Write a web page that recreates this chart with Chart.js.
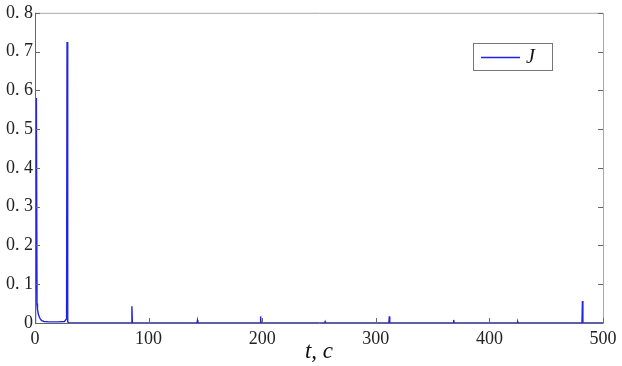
<!DOCTYPE html>
<html>
<head>
<meta charset="utf-8">
<script src="https://cdn.jsdelivr.net/npm/chart.js@4.4.0/dist/chart.umd.min.js"></script>
<style>
  html, body { margin: 0; padding: 0; background: #fff; }
  #wrap { width: 622px; height: 366px; position: relative; }
</style>
</head>
<body>
<div id="wrap"><canvas id="chart" width="622" height="366"></canvas></div>
<script>
// time, s
const timeValues = [
  0, 0.3, 0.6, 1.2, 1.8, 2.2, 3, 4, 5, 6, 8, 12, 20, 26, 27.5, 27.8, 28.2, 28.6, 29, 30,
  84.9, 85.3, 85.7,
  142.6, 143, 143.4,
  198.2, 198.6, 199,
  255, 255.4, 255.8,
  311.5, 311.9, 312.3,
  368.2, 368.6, 369,
  424.6, 425, 425.4,
  481.5, 481.9, 482.3,
  500
];
const jValues = [
  0, 0.44, 0.05, 0.58, 0.05, 0.035, 0.022, 0.014, 0.009, 0.006, 0.004, 0.003, 0.003, 0.004, 0.01, 0.05, 0.725, 0.05, 0.003, 0,
  0, 0.043, 0,
  0, 0.007, 0,
  0, 0.017, 0,
  0, 0.0035, 0,
  0, 0.017, 0,
  0, 0.008, 0,
  0, 0.003, 0,
  0, 0.057, 0,
  0
];
const xTicks = [0, 100, 200, 300, 400, 500];
const yTicks = [0, 0.1, 0.2, 0.3, 0.4, 0.5, 0.6, 0.7, 0.8];
const seriesLabel = 'J';
const xTitle = 't, c';

const lineColor = '#2323e0';
const axisColor = '#666666';
const fontFamily = '"Liberation Serif", "DejaVu Serif", serif';

const points = timeValues.map((t, i) => ({ x: t, y: jValues[i] }));

function formatY(v) {
  if (v === 0) return '0';
  return v.toFixed(1).replace('.', '. ');
}

// MATLAB-style box with inward ticks plus the in-plot legend
const boxPlugin = {
  id: 'boxPlugin',
  afterDraw(chart) {
    const { ctx, chartArea: a, scales } = chart;
    ctx.save();
    ctx.lineWidth = 1;
    // top + right edges lighter, left + bottom darker
    ctx.strokeStyle = '#a8a8a8';
    ctx.beginPath();
    ctx.moveTo(a.left, a.top + 0.5); ctx.lineTo(a.right + 0.5, a.top + 0.5);
    ctx.lineTo(a.right + 0.5, a.bottom);
    ctx.stroke();
    ctx.strokeStyle = axisColor;
    ctx.beginPath();
    ctx.moveTo(a.left + 0.5, a.top); ctx.lineTo(a.left + 0.5, a.bottom + 0.5);
    ctx.lineTo(a.right + 0.5, a.bottom + 0.5);
    ctx.stroke();
    const len = 5;
    ctx.beginPath();
    xTicks.forEach((v) => {
      const px = Math.round(scales.x.getPixelForValue(v)) + 0.5;
      ctx.moveTo(px, a.bottom); ctx.lineTo(px, a.bottom - len);
    });
    yTicks.forEach((v) => {
      const py = Math.round(scales.y.getPixelForValue(v)) + 0.5;
      ctx.moveTo(a.left, py); ctx.lineTo(a.left + len, py);
      ctx.moveTo(a.right, py); ctx.lineTo(a.right - len, py);
    });
    ctx.stroke();

    // legend
    const lx = 473, ly = 43, lw = 79, lh = 27;
    ctx.fillStyle = '#ffffff';
    ctx.fillRect(lx, ly, lw, lh);
    ctx.strokeStyle = '#777777';
    ctx.strokeRect(lx + 0.5, ly + 0.5, lw, lh);
    ctx.strokeStyle = lineColor;
    ctx.lineWidth = 1.4;
    ctx.beginPath();
    ctx.moveTo(lx + 8, ly + 14.5);
    ctx.lineTo(lx + 47, ly + 14.5);
    ctx.stroke();
    ctx.fillStyle = '#111111';
    ctx.font = 'italic 20px ' + fontFamily;
    ctx.textBaseline = 'middle';
    ctx.fillText(seriesLabel, lx + 53, ly + 15);
    ctx.restore();
  }
};

new Chart(document.getElementById('chart'), {
  type: 'scatter',
  data: {
    datasets: [{
      label: seriesLabel,
      data: points,
      showLine: true,
      borderColor: lineColor,
      backgroundColor: lineColor,
      borderWidth: 1.4,
      pointRadius: 0,
      tension: 0
    }]
  },
  options: {
    responsive: false,
    animation: false,
    layout: { padding: { top: 12, right: 19, left: 0, bottom: 0 } },
    plugins: { legend: { display: false }, tooltip: { enabled: false } },
    scales: {
      x: {
        type: 'linear',
        min: 0,
        max: 500,
        afterBuildTicks: (s) => { s.ticks = xTicks.map((v) => ({ value: v })); },
        afterFit: (s) => { s.height = 43; },
        grid: { display: false, drawTicks: false },
        border: { display: false },
        ticks: {
          color: '#222',
          padding: 5,
          font: { family: fontFamily, size: 18 },
          maxRotation: 0
        },
        title: {
          display: true,
          text: xTitle,
          color: '#111',
          padding: { top: -8, bottom: 0 },
          font: { family: fontFamily, size: 23, style: 'italic' }
        }
      },
      y: {
        type: 'linear',
        min: 0,
        max: 0.8,
        afterBuildTicks: (s) => { s.ticks = yTicks.map((v) => ({ value: v })); },
        afterFit: (s) => { s.width = 35; },
        grid: { display: false, drawTicks: false },
        border: { display: false },
        ticks: {
          color: '#222',
          padding: 2,
          font: { family: fontFamily, size: 18 },
          callback: (v) => formatY(v)
        }
      }
    }
  },
  plugins: [boxPlugin]
});
</script>
</body>
</html>
